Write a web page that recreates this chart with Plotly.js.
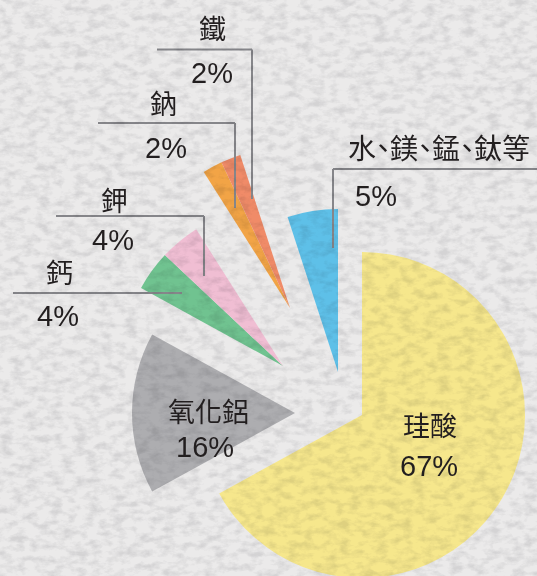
<!DOCTYPE html>
<html><head><meta charset="utf-8">
<script src="https://cdn.plot.ly/plotly-3.0.1.min.js"></script>
<style>
html,body{margin:0;padding:0;overflow:hidden;width:537px;height:576px;background:#ebeaea;}
#chart{position:absolute;left:0;top:0;width:537px;height:600px;z-index:1;}
#tex{position:absolute;left:0;top:0;z-index:2;pointer-events:none;mix-blend-mode:multiply;}
.annotation-text{font-feature-settings:"palt" 1;}
</style></head><body>
<div id="chart"></div>
<svg id="tex" width="537" height="576" xmlns="http://www.w3.org/2000/svg">
<filter id="n" x="0" y="0" width="100%" height="100%">
<feTurbulence type="fractalNoise" baseFrequency="0.08 0.14" numOctaves="4" seed="7"/>
<feColorMatrix type="matrix" values="0 0 0 0 0.79  0 0 0 0 0.79  0 0 0 0 0.80  0 0 0 2.5 -1.02"/>
</filter>
<rect width="537" height="576" filter="url(#n)"/>
</svg>
<script>
// data
const labels = ['珪酸', '氧化鋁', '鈣', '鉀', '鈉', '鐵', '水、鎂、錳、鈦等'];
const values = [67, 16, 4, 4, 2, 2, 5];
const percentText = ['67%', '16%', '4%', '4%', '2%', '2%', '5%'];
const colors = ['#f6e78c', '#adadb0', '#70c390', '#f0bed3', '#f2a446', '#f08b68', '#5ec0e8'];

// layout of the exploded wedges (apex in pixels, radius)
const W = 537, H = 600;
const groups = [
  {idx: [0], cx: 362, cy: 415, r: 163},
  {idx: [1], cx: 295, cy: 413, r: 163},
  {idx: [2, 3], cx: 283, cy: 366, r: 162},
  {idx: [4, 5], cx: 290, cy: 308, r: 161},
  {idx: [6], cx: 338, cy: 372, r: 163}
];

const traces = groups.map(g => ({
  type: 'pie',
  values: values,
  labels: labels,
  sort: false,
  direction: 'clockwise',
  rotation: 0,
  textinfo: 'none',
  hoverinfo: 'skip',
  showlegend: false,
  marker: {
    colors: colors.map((c, i) => g.idx.includes(i) ? c : 'rgba(0,0,0,0)'),
    line: {width: 0}
  },
  domain: {
    x: [(g.cx - g.r) / W, (g.cx + g.r) / W],
    y: [1 - (g.cy + g.r) / H, 1 - (g.cy - g.r) / H]
  }
}));

const cjkFont = {family: '"Noto Sans CJK TC", "Noto Sans CJK SC", sans-serif', size: 27, color: '#231f20'};
const longCjkFont = {family: '"Noto Sans CJK TC", "Noto Sans CJK SC", sans-serif', size: 28, color: '#231f20'};
const numFont = {family: '"Liberation Sans", Arial, sans-serif', size: 29, color: '#231f20'};
function ann(text, x, y, xanchor, font) {
  return {text: text, x: x / W, y: 1 - y / H, xref: 'paper', yref: 'paper',
    xanchor: xanchor || 'center', yanchor: 'middle', showarrow: false, font: font};
}
// label placements: [name pos, percent pos, anchor]
const labelPos = [
  [[430, 424], [429, 466], 'center'],
  [[208, 410], [205, 447], 'center'],
  [[60, 271], [58, 316], 'center'],
  [[114, 199], [113, 240], 'center'],
  [[163, 102], [166, 148], 'center'],
  [[212, 28], [212, 73], 'center'],
  [[346, 147], [353, 196], 'left']
];
const annotations = [];
labelPos.forEach((p, i) => {
  annotations.push(ann(labels[i], p[0][0], p[0][1], p[2], i === 6 ? longCjkFont : cjkFont));
  annotations.push(ann(percentText[i], p[1][0], p[1][1], p[2], numFont));
});

const lineStyle = {color: '#86868a', width: 2};
function seg(x0, y0, x1, y1) {
  return {type: 'line', xref: 'paper', yref: 'paper',
    x0: x0 / W, y0: 1 - y0 / H, x1: x1 / W, y1: 1 - y1 / H, line: lineStyle};
}
const shapes = [
  seg(157, 49.5, 252, 49.5), seg(252, 49.5, 252, 199),
  seg(98, 123, 235, 123), seg(235, 123, 235, 208),
  seg(56, 216, 204, 216), seg(204, 216, 204, 276),
  seg(13, 293, 182, 293),
  seg(333, 169, 540, 169), seg(333, 169, 333, 248)
];

Plotly.newPlot('chart', traces, {
  width: W, height: H,
  margin: {l: 0, r: 0, t: 0, b: 0},
  paper_bgcolor: 'rgba(0,0,0,0)',
  plot_bgcolor: 'rgba(0,0,0,0)',
  showlegend: false,
  annotations: annotations,
  shapes: shapes
}, {staticPlot: true, displayModeBar: false});
</script>
</body></html>
